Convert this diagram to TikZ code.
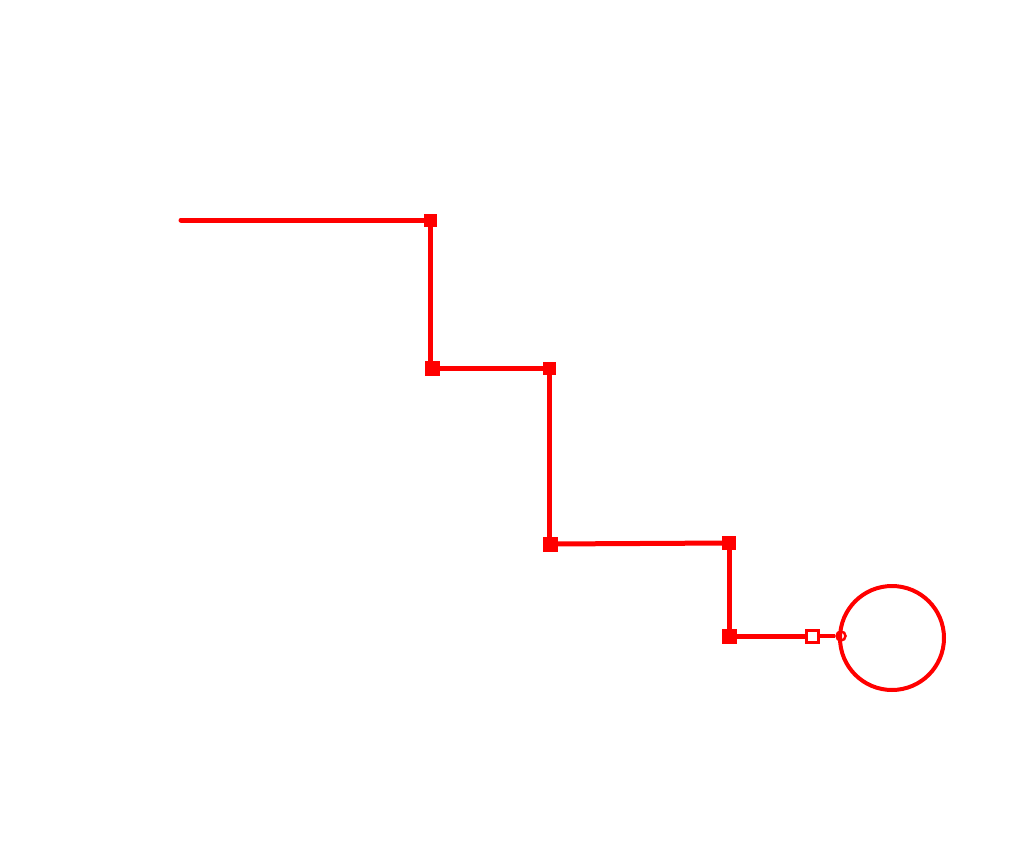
\documentclass[tikz,border=0pt]{standalone}
\begin{document}
\begin{tikzpicture}[x=1pt,y=-1pt,
  wire/.style={draw=red,line width=5pt},
  thin wire/.style={draw=red,line width=3.5pt},
  joint/.style={fill=red,draw=none,minimum size=#1pt,inner sep=0pt,outer sep=0pt,rectangle},
  joint/.default=12]
\useasboundingbox (0,0) rectangle (1013,859);
\coordinate (s) at (181,220);
\node[joint=13] (a) at (430,220) {};
\node[joint=15] (b) at (432,368) {};
\node[joint=13] (c) at (549,368) {};
\node[joint=15] (d) at (550,544) {};
\node[joint=14] (e) at (729,543) {};
\node[joint=15] (f) at (729,636) {};
\node[draw=red,line width=3pt,fill=white,minimum size=12pt,inner sep=0pt,rectangle] (g) at (812,636) {};
\node[draw=red,line width=2.5pt,fill=white,circle,minimum size=9pt,inner sep=0pt] (h) at (841,636) {};
\node[draw=red,line width=4pt,circle,minimum size=104pt,inner sep=0pt] (big) at (892,638) {};
\draw[wire,line cap=round] (s) -- (a.center);
\draw[wire] (430.5,220) -- (430.5,368);
\draw[wire] (b.center) -- (c.center);
\draw[wire] (549.5,368) -- (549.5,544);
\draw[wire] (d.center) -- (e.center);
\draw[wire] (e.center) -- (f.center);
\draw[wire] (f.center) -- (g.west);
\draw[thin wire] (g.east) -- (h.west);
\node[joint=13] at (430,220) {};
\node[joint=15] at (432,368) {};
\node[joint=13] at (549,368) {};
\node[joint=15] at (550,544) {};
\node[joint=14] at (729,543) {};
\node[joint=15] at (729,636) {};
\end{tikzpicture}
\end{document}
